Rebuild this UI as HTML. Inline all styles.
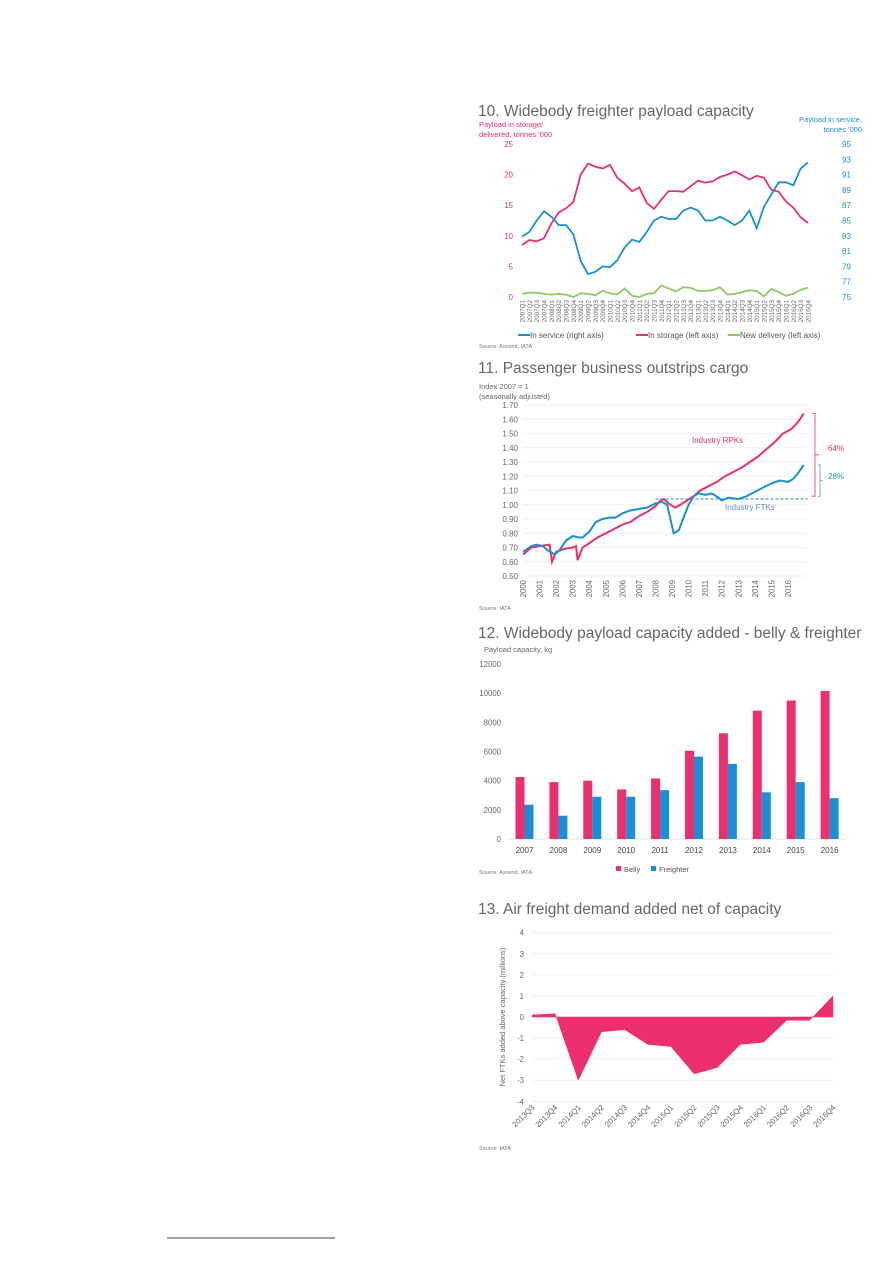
<!DOCTYPE html>
<html><head><meta charset="utf-8"><style>
html,body{margin:0;padding:0;background:#fff}
svg{display:block;font-family:"Liberation Sans",Arial,sans-serif}
</style></head><body>
<svg id="pg" width="893" height="1263" viewBox="0 0 893 1263">
<line x1="167" y1="1238" x2="335" y2="1238" stroke="#000" stroke-width="0.8"/>
<g id="c10"></g>
<g id="c11"></g>
<g id="c12"></g>
<g id="c13"></g>
</svg>
<script>
// ---- Chart 10 data ----
const c10Quarters=[];for(let y=2007;y<=2016;y++)for(let q=1;q<=4;q++)c10Quarters.push(y+'Q'+q);
const c10InService=[82.9,83.5,85,86.2,85.5,84.4,84.4,83.2,79.7,78,78.3,79,78.9,79.8,81.5,82.5,82.2,83.5,85,85.5,85.2,85.2,86.3,86.7,86.3,85,85,85.5,85,84.4,85,86.3,84,86.8,88.4,90,90,89.6,91.8,92.6];
const c10InStorage=[8.5,9.3,9.1,9.6,12,13.8,14.5,15.5,20,21.8,21.3,21,21.6,19.5,18.5,17.3,17.9,15.4,14.4,15.9,17.3,17.3,17.2,18.1,19,18.7,18.9,19.6,20,20.5,19.9,19.2,19.8,19.5,17.5,17.2,15.6,14.6,13,12.1];
const c10NewDelivery=[0.5,0.7,0.7,0.5,0.4,0.5,0.4,0.0,0.6,0.5,0.3,1.0,0.6,0.4,1.4,0.2,0.0,0.5,0.6,1.9,1.4,0.9,1.6,1.5,1.0,1.0,1.1,1.6,0.4,0.5,0.8,1.1,1.0,0.1,1.3,0.8,0.2,0.5,1.2,1.5];
const c10LeftTicks=[0,5,10,15,20,25];
const c10RightTicks=[75,77,79,81,83,85,87,89,91,93,95];
// ---- Chart 11 data ----
const c11RpkT=[2000,2000.5,2001,2001.6,2001.75,2002,2002.5,2003,2003.2,2003.3,2003.6,2004,2004.5,2005,2005.5,2006,2006.5,2007,2007.5,2008,2008.3,2008.5,2008.9,2009.2,2009.5,2009.9,2010.3,2010.7,2011.2,2011.7,2012.2,2012.7,2013.2,2013.7,2014.2,2014.7,2015.2,2015.7,2016.2,2016.6,2016.95];
const c11RpkV=[0.65,0.70,0.71,0.72,0.60,0.67,0.69,0.70,0.71,0.61,0.70,0.73,0.77,0.80,0.83,0.86,0.88,0.92,0.95,0.99,1.03,1.04,1.00,0.98,1.00,1.03,1.06,1.10,1.13,1.16,1.20,1.23,1.26,1.30,1.34,1.39,1.44,1.50,1.53,1.58,1.64];
const c11FtkT=[2000,2000.5,2000.8,2001.2,2001.5,2001.8,2001.9,2002.2,2002.6,2003,2003.4,2003.6,2004,2004.4,2004.8,2005.2,2005.6,2006,2006.5,2007,2007.5,2008,2008.4,2008.7,2008.9,2009.1,2009.4,2009.7,2010,2010.3,2010.6,2011,2011.4,2011.8,2012,2012.4,2013,2013.5,2014,2014.5,2015,2015.5,2016,2016.3,2016.6,2016.95];
const c11FtkV=[0.67,0.71,0.72,0.71,0.68,0.66,0.65,0.68,0.75,0.78,0.77,0.77,0.81,0.88,0.90,0.91,0.91,0.94,0.96,0.97,0.98,1.01,1.02,1.00,0.90,0.80,0.82,0.91,1.00,1.06,1.08,1.07,1.08,1.05,1.03,1.05,1.04,1.06,1.09,1.12,1.15,1.17,1.16,1.18,1.22,1.28];
const c11Ticks=[0.5,0.6,0.7,0.8,0.9,1.0,1.1,1.2,1.3,1.4,1.5,1.6,1.7];
const c11Years=[2000,2001,2002,2003,2004,2005,2006,2007,2008,2009,2010,2011,2012,2013,2014,2015,2016];
// ---- Chart 12 data ----
const c12Years=['2007','2008','2009','2010','2011','2012','2013','2014','2015','2016'];
const c12Belly=[4250,3900,4000,3400,4150,6050,7250,8800,9500,10150];
const c12Freighter=[2350,1600,2900,2900,3350,5650,5150,3200,3900,2800];
const c12Ticks=[0,2000,4000,6000,8000,10000,12000];
// ---- Chart 13 data ----
const c13Quarters=['2013Q3','2013Q4','2014Q1','2014Q2','2014Q3','2014Q4','2015Q1','2015Q2','2015Q3','2015Q4','2016Q1','2016Q2','2016Q3','2016Q4'];
const c13Values=[0.1,0.15,-3.0,-0.7,-0.6,-1.3,-1.4,-2.7,-2.4,-1.3,-1.2,-0.15,-0.15,1.0];
const c13Ticks=[-4,-3,-2,-1,0,1,2,3,4];

const NS='http://www.w3.org/2000/svg';
function mk(parent,tag,attrs,txt){const e=document.createElementNS(NS,tag);for(const k in attrs)e.setAttribute(k,attrs[k]);if(txt!==undefined)e.textContent=txt;parent.appendChild(e);return e;}
const PINK='#ec2f6e',BLUE='#1a8fd6',GREEN='#8dc965',GREY='#666',GRID='#ececf2';

// ===== Chart 10 =====
(function(){
const g=document.getElementById('c10');
const x=i=>522+i*(808-522)/39;
const yl=v=>297-v*(297-144)/25;
const yr=v=>297-(v-75)*(297-144)/20;
let t=mk(g,'text',{x:478,y:116,'font-size':15.5,fill:GREY});t.textContent='10. Widebody freighter payload capacity';

t=mk(g,'text',{x:479,y:127,'font-size':7.5,fill:PINK},'Payload in storage/');

mk(g,'text',{x:479,y:137,'font-size':7.5,fill:PINK},"delivered, tonnes '000");
t=mk(g,'text',{x:862,y:122,'font-size':7.5,fill:BLUE,'text-anchor':'end'},'Payload in service,');

mk(g,'text',{x:862,y:132,'font-size':7.5,fill:BLUE,'text-anchor':'end'},"tonnes '000");
c10LeftTicks.forEach(v=>{const e=mk(g,'text',{x:513,y:yl(v)+3,'font-size':8,fill:PINK,'text-anchor':'end'},String(v));
});
c10RightTicks.forEach(v=>{const e=mk(g,'text',{x:842,y:yr(v)+3,'font-size':8,fill:BLUE},String(v));
});
c10Quarters.forEach((q,i)=>{const e=mk(g,'text',{transform:`translate(${x(i)+2.5},300) rotate(-90)`,'font-size':6.3,fill:GREY,'text-anchor':'end'},q);
});
const line=(arr,fy,col,name)=>{const p=mk(g,'path',{d:arr.map((v,i)=>(i?'L':'M')+x(i).toFixed(1)+' '+fy(v).toFixed(1)).join(''),fill:'none',stroke:col,'stroke-width':1.8});
};
line(c10NewDelivery,yl,GREEN,'new-delivery-line');
line(c10InStorage,yl,PINK,'in-storage-line');
line(c10InService,yr,BLUE,'in-service-line');
const leg=[[518,BLUE,'In service (right axis)'],[636,PINK,'In storage (left axis)'],[728,GREEN,'New delivery (left axis)']];
leg.forEach(l=>{const lg=mk(g,'g',{});
mk(lg,'line',{x1:l[0],y1:335,x2:l[0]+12,y2:335,stroke:l[1],'stroke-width':2});
mk(lg,'text',{x:l[0]+12,y:338,'font-size':8,fill:'#555'},l[2]);});
t=mk(g,'text',{x:479,y:348,'font-size':5.5,fill:'#777'},'Source: Ascend, IATA');

})();

// ===== Chart 11 =====
(function(){
const g=document.getElementById('c11');
const x=v=>523+(v-2000)*16.56;
const y=v=>576-(v-0.5)*(576-405)/1.2;
let t=mk(g,'text',{x:478,y:373,'font-size':15.5,fill:GREY},'11. Passenger business outstrips cargo');

t=mk(g,'text',{x:479,y:389,'font-size':7.5,fill:GREY},'Index 2007 = 1');

mk(g,'text',{x:479,y:399,'font-size':7.5,fill:GREY},'(seasonally adjusted)');
c11Ticks.forEach(v=>{const l=mk(g,'line',{x1:523,x2:806,y1:y(v),y2:y(v),stroke:GRID,'stroke-width':0.8});

const e=mk(g,'text',{x:518,y:y(v)+3,'font-size':8,fill:GREY,'text-anchor':'end'},v.toFixed(2));
});
c11Years.forEach(v=>{const e=mk(g,'text',{transform:`translate(${x(v)+3},580) rotate(-90)`,'font-size':7.8,fill:GREY,'text-anchor':'end'},String(v));
});
let d=mk(g,'line',{x1:x(2008),x2:x(2017.2),y1:y(1.04),y2:y(1.04),stroke:BLUE,'stroke-width':1,'stroke-dasharray':'3,2'});

const line=(tt,vv,col,name)=>{const p=mk(g,'path',{d:tt.map((tv,i)=>(i?'L':'M')+x(tv).toFixed(1)+' '+y(vv[i]).toFixed(1)).join(''),fill:'none',stroke:col,'stroke-width':2});
};
line(c11RpkT,c11RpkV,PINK,'rpk-line');
line(c11FtkT,c11FtkV,BLUE,'ftk-line');
t=mk(g,'text',{x:692,y:443,'font-size':8,fill:PINK},'Industry RPKs');
t=mk(g,'text',{x:725,y:510,'font-size':8,fill:'#5b8fd0'},'Industry FTKs');
const rv=c11RpkV[c11RpkV.length-1],fv=c11FtkV[c11FtkV.length-1];
let b=mk(g,'path',{d:`M812 ${y(rv)}h3V${y(1.06)}h-3M815 ${(y(rv)+y(1.06))/2}h4`,fill:'none',stroke:PINK,'stroke-width':0.8});

b=mk(g,'path',{d:`M818 ${y(fv)}h2V${y(1.06)}h-2M820 ${(y(fv)+y(1.06))/2}h3`,fill:'none',stroke:'#5b8fd0','stroke-width':0.8});

t=mk(g,'text',{x:828,y:451,'font-size':8,fill:PINK},'64%');
t=mk(g,'text',{x:828,y:479,'font-size':8,fill:BLUE},'28%');
t=mk(g,'text',{x:479,y:610,'font-size':5.5,fill:'#777'},'Source: IATA');
})();

// ===== Chart 12 =====
(function(){
const g=document.getElementById('c12');
const cx=i=>524.5+i*33.9;
const y=v=>839-v*(839-664)/12000;
let t=mk(g,'text',{x:478,y:638,'font-size':15.5,fill:GREY},'12. Widebody payload capacity added - belly & freighter');

t=mk(g,'text',{x:484,y:652,'font-size':7.5,fill:GREY},'Payload  capacity, kg');

c12Ticks.forEach(v=>{const e=mk(g,'text',{x:501,y:y(v)+3,'font-size':7.8,fill:GREY,'text-anchor':'end'},String(v));
});
mk(g,'line',{x1:507,x2:846,y1:839,y2:839,stroke:'#ddd','stroke-width':0.8});
c12Years.forEach((yr,i)=>{
const b=mk(g,'rect',{x:cx(i)-9,y:y(c12Belly[i]),width:9,height:839-y(c12Belly[i]),fill:PINK});

const f=mk(g,'rect',{x:cx(i),y:y(c12Freighter[i]),width:9,height:839-y(c12Freighter[i]),fill:BLUE});

const e=mk(g,'text',{x:cx(i),y:853,'font-size':8,fill:'#444','text-anchor':'middle'},yr);
});
let lg=mk(g,'g',{});
mk(lg,'rect',{x:616,y:866,width:5,height:5,fill:PINK});mk(lg,'text',{x:624,y:872,'font-size':7.5,fill:'#555'},'Belly');
lg=mk(g,'g',{});
mk(lg,'rect',{x:651,y:866,width:5,height:5,fill:BLUE});mk(lg,'text',{x:659,y:872,'font-size':7.5,fill:'#555'},'Freighter');
t=mk(g,'text',{x:479,y:874,'font-size':5.5,fill:'#777'},'Source: Ascend, IATA');
})();

// ===== Chart 13 =====
(function(){
const g=document.getElementById('c13');
const x=i=>532+i*(833-532)/13;
const y=v=>1017-v*(1017-932.7)/4;
let t=mk(g,'text',{x:478,y:914,'font-size':15.5,fill:GREY},'13. Air freight demand added net of capacity');

c13Ticks.forEach(v=>{const l=mk(g,'line',{x1:532,x2:834,y1:y(v),y2:y(v),stroke:GRID,'stroke-width':0.8});

const e=mk(g,'text',{x:524,y:y(v)+3,'font-size':7.8,fill:GREY,'text-anchor':'end'},String(v));
});
t=mk(g,'text',{transform:`translate(505,1017) rotate(-90)`,'font-size':7.5,fill:GREY,'text-anchor':'middle'},'Net FTKs added above capacity (millions)');

let d='M'+x(0)+' '+y(0);c13Values.forEach((v,i)=>d+='L'+x(i).toFixed(1)+' '+y(v).toFixed(1));d+='L'+x(c13Values.length-1)+' '+y(0)+'Z';
const a=mk(g,'path',{d:d,fill:PINK,stroke:PINK,'stroke-width':0.5});

c13Quarters.forEach((q,i)=>{const e=mk(g,'text',{transform:`translate(${x(i)+3},1108) rotate(-45)`,'font-size':7.8,fill:GREY,'text-anchor':'end'},q);
});
t=mk(g,'text',{x:479,y:1150,'font-size':5.5,fill:'#777'},'Source: IATA');
})();
</script>
</body></html>
